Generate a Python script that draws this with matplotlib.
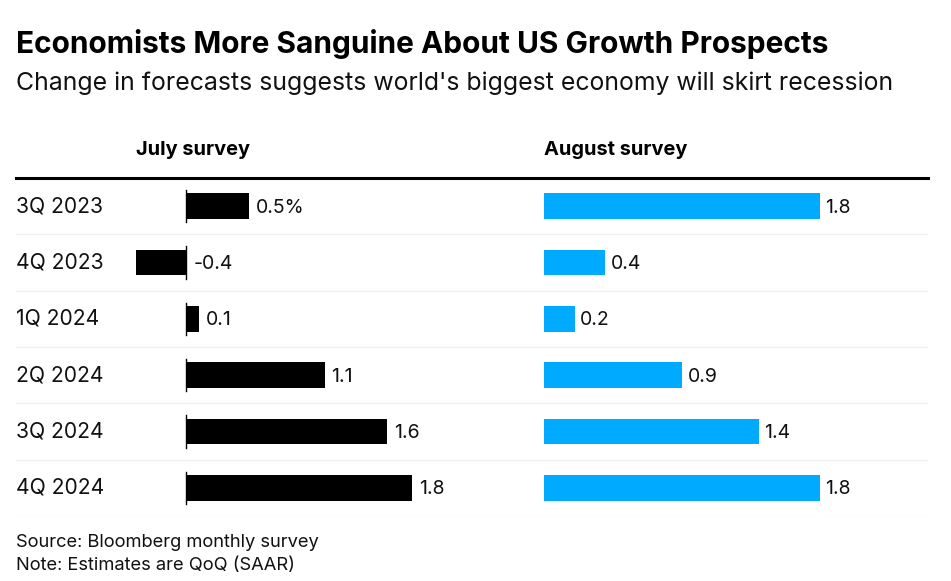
import matplotlib
matplotlib.use("Agg")
import matplotlib.pyplot as plt
from matplotlib.lines import Line2D

plt.rcParams['font.family'] = ['Inter', 'DejaVu Sans']

quarters = ["3Q 2023", "4Q 2023", "1Q 2024", "2Q 2024", "3Q 2024", "4Q 2024"]
july = [0.5, -0.4, 0.1, 1.1, 1.6, 1.8]
august = [1.8, 0.4, 0.2, 0.9, 1.4, 1.8]
july_labels = ["0.5%", "-0.4", "0.1", "1.1", "1.6", "1.8"]
august_labels = ["1.8", "0.4", "0.2", "0.9", "1.4", "1.8"]

W, H = 951, 581
fig = plt.figure(figsize=(W / 100, H / 100), dpi=100)

def fx(px):
    return px / W

def fy(py):
    return 1 - py / H

top_px, bot_px = 178, 516
ax_b = fy(bot_px)
ax_h = (bot_px - top_px) / H

axL = fig.add_axes([fx(16), ax_b, fx(480) - fx(16), ax_h])
axR = fig.add_axes([fx(480), ax_b, fx(928) - fx(480), ax_h])

zl, sl = 186.5, 125.5
axL.set_xlim((16 - zl) / sl, (480 - zl) / sl)
zr, sr = 544, 153.3
axR.set_xlim((480 - zr) / sr, (928 - zr) / sr)

n = len(quarters)
for ax in (axL, axR):
    ax.set_ylim(n - 0.5, -0.5)
    ax.axis('off')
    for i in range(n):
        ax.axhline(i + 0.5, color='#f0f0f0', lw=1.0, zorder=0)

ypos = list(range(n))
bh = 0.45
axL.barh(ypos, july, height=bh, color='black', zorder=2)
axR.barh(ypos, august, height=bh, color='#00aaff', zorder=2)

for i, v in enumerate(july):
    axL.plot([0, 0], [i - 0.285, i + 0.285], color='black', lw=1.0, zorder=3)
    axL.annotate(july_labels[i], (max(v, 0), i), xytext=(5, -1), textcoords='offset points',
                 va='center', ha='left', fontsize=14, color='#111111')
for i, v in enumerate(august):
    axR.annotate(august_labels[i], (v, i), xytext=(4, -1), textcoords='offset points',
                 va='center', ha='left', fontsize=14, color='#111111')

for i, q in enumerate(quarters):
    axL.text(0.0, i, q, transform=axL.get_yaxis_transform(), va='center', ha='left',
             fontsize=15.2, color='#111111')

fig.add_artist(Line2D([fx(16), fx(928)], [fy(178), fy(178)], color='black', lw=2.2,
                      transform=fig.transFigure))

fig.text(fx(16), fy(53), "Economists More Sanguine About US Growth Prospects",
         fontsize=21.5, fontweight='bold', va='baseline', ha='left', color='black')
fig.text(fx(16), fy(90), "Change in forecasts suggests world's biggest economy will skirt recession",
         fontsize=17.85, va='baseline', ha='left', color='#111111')
fig.text(fx(136), fy(155), "July survey", fontsize=14.4, fontweight='bold', va='baseline', ha='left')
fig.text(fx(544), fy(155), "August survey", fontsize=14.4, fontweight='bold', va='baseline', ha='left')
fig.text(fx(16), fy(547), "Source: Bloomberg monthly survey", fontsize=13.2, va='baseline',
         ha='left', color='#111111')
fig.text(fx(16), fy(570), "Note: Estimates are QoQ (SAAR)", fontsize=13.2, va='baseline',
         ha='left', color='#111111')

fig.savefig("out.png", dpi=100, facecolor='white')
